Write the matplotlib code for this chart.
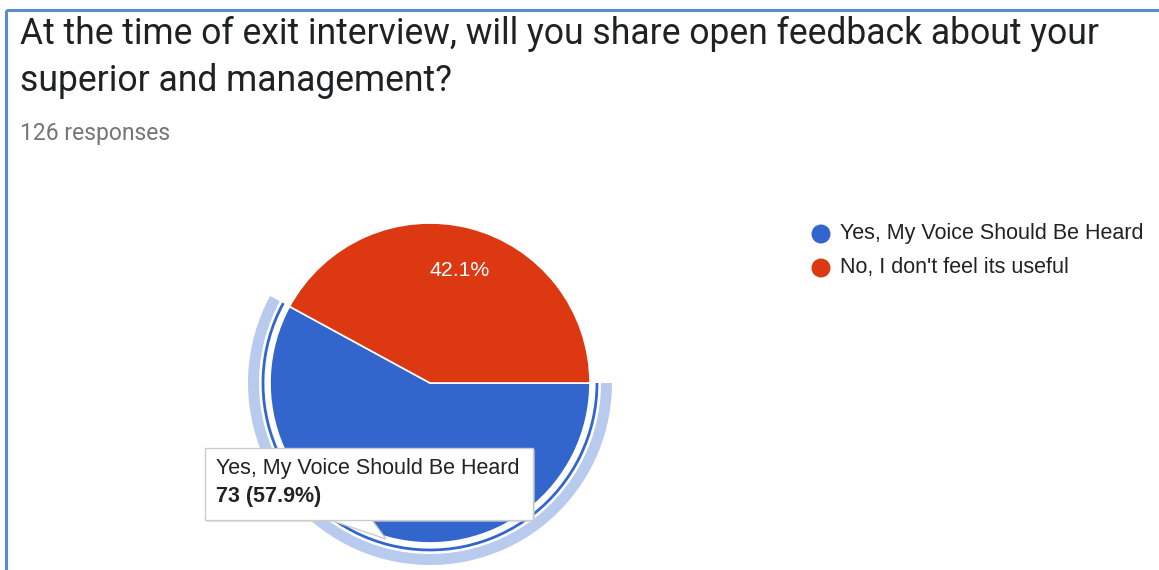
import matplotlib
matplotlib.use("Agg")
import matplotlib.pyplot as plt
from matplotlib.patches import Wedge, Arc, Rectangle, Polygon, Circle

# survey answers
question = ["At the time of exit interview, will you share open feedback about your",
            "superior and management?"]
labels = ["Yes, My Voice Should Be Heard", "No, I don't feel its useful"]
counts = [73, 53]
colors = ["#3366cc", "#dc3912"]

W, H = 1159, 570
fig = plt.figure(figsize=(W / 100, H / 100), dpi=100)
ax = fig.add_axes([0, 0, 1, 1])


def py(y):
    # pixel row (top-down) -> data y (bottom-up)
    return H - y


total = sum(counts)
cx, cy, r = 430, py(383), 160

wedges, _ = ax.pie(counts, colors=colors, center=(cx, cy), radius=r,
                   startangle=0, counterclock=False,
                   wedgeprops=dict(edgecolor="white", linewidth=1.2))

# highlight ring around the hovered slice
span = 360 * counts[0] / total
ax.add_patch(Wedge((cx, cy), 182, 360 - span, 360, width=11,
                   facecolor="#b8caee", edgecolor="none"))
ax.add_patch(Arc((cx, cy), 2 * 167, 2 * 167, theta1=360 - span, theta2=360,
                 color=colors[0], lw=2))

# percentage label inside the red slice
pct_no = 100 * counts[1] / total
ax.text(460, py(270), f"{pct_no:.1f}%", color="white", fontsize=15.3,
        family="Liberation Sans", ha="center", va="center")

# title and response count
ax.text(20, py(44), question[0], fontsize=25.6, family="Roboto", color="#202124")
ax.text(20, py(91), question[1], fontsize=25.6, family="Roboto", color="#202124")
ax.text(20, py(140), f"{total} responses", fontsize=16.5, family="Roboto",
        color="#757575")

# legend
for i, (lab, col) in enumerate(zip(labels, colors)):
    yy = py(234 + 34 * i)
    ax.add_patch(Circle((821, yy), 9.5, facecolor=col, edgecolor="none"))
    ax.text(840, yy, lab, fontsize=15.5, family="Liberation Sans",
            color="#222222", va="center")

# tooltip
ax.add_patch(Rectangle((207, py(522)), 328, 72, facecolor="#cccccc",
                       edgecolor="none", alpha=0.6))
ax.add_patch(Polygon([(330, py(520)), (372, py(520)), (386, py(539))],
                     closed=True, facecolor="white", edgecolor="#cccccc", lw=1))
ax.add_patch(Rectangle((205, py(520)), 328, 72, facecolor="white",
                       edgecolor="#cccccc", lw=1))
ax.text(216, py(474), labels[0], fontsize=15.5, family="Liberation Sans",
        color="#222222")
pct_yes = 100 * counts[0] / total
ax.text(216, py(502), f"{counts[0]} ({pct_yes:.1f}%)", fontsize=15.5,
        family="Liberation Sans", color="#222222", fontweight="bold")

# card border
ax.plot([6, W], [py(10), py(10)], color="#5b8bd0", lw=2.2, solid_capstyle="butt")
ax.plot([6, 6], [py(10), 0], color="#5b8bd0", lw=2.2, solid_capstyle="butt")

ax.set_xlim(0, W)
ax.set_ylim(0, H)
ax.set_aspect("equal")
ax.axis("off")

fig.savefig("out.png", dpi=100)
